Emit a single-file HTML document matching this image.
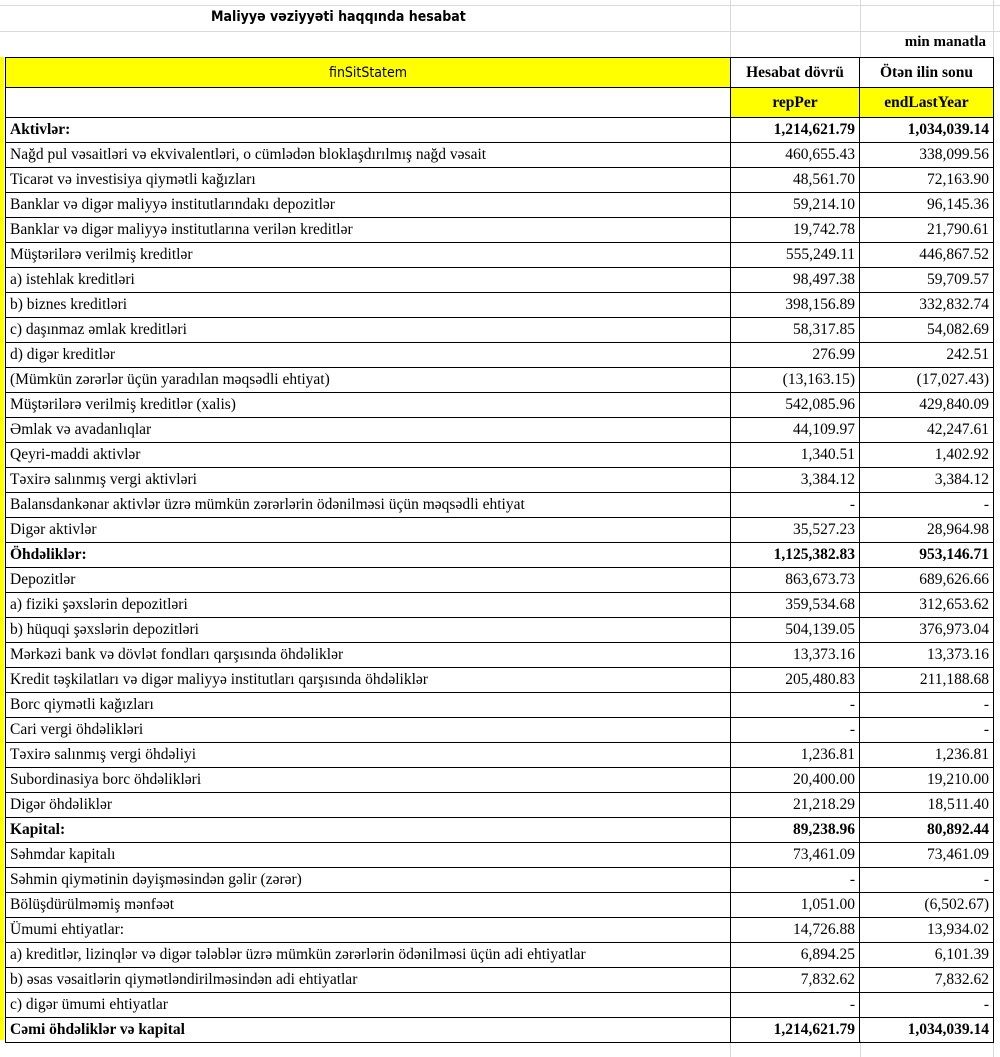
<!DOCTYPE html>
<html><head><meta charset="utf-8"><style>
body{margin:0;width:1000px;height:1057px;background:#fff;position:relative;overflow:hidden;font-family:"Liberation Serif",serif;}
.g{position:absolute;background:#d9d9d9}
table{position:absolute;left:5px;top:57px;border-collapse:collapse;table-layout:fixed}
td{border:1.5px solid #000;padding:0 4px;height:24px;font-size:15.5px;white-space:nowrap;overflow:hidden;line-height:24px}
td.n{text-align:right}
tr.b td{font-weight:bold}
.y{background:#ffff00}
</style></head><body>
<div class="g" style="left:0;top:5px;width:1000px;height:1px"></div>
<div class="g" style="left:0;top:31px;width:1000px;height:1px"></div>
<div class="g" style="left:730px;top:0;width:1px;height:57px"></div>
<div class="g" style="left:860px;top:0;width:1px;height:57px"></div>
<div class="g" style="left:993px;top:0;width:1px;height:1057px"></div>
<div class="g" style="left:730px;top:1040px;width:1px;height:17px"></div>
<div class="g" style="left:860px;top:1040px;width:1px;height:17px"></div>
<div style="position:absolute;left:0;top:57px;width:4px;height:983px;background:#ffff00"></div>
<div style="position:absolute;left:211px;top:9px;font:bold 14px 'DejaVu Sans Condensed','Liberation Sans',sans-serif">Maliyyə vəziyyəti haqqında hesabat</div>
<div style="position:absolute;right:14px;top:34px;font:bold 15px 'Liberation Serif',serif">min manatla</div>
<table>
<colgroup><col style="width:725px"><col style="width:129px"><col style="width:134px"></colgroup>
<tr style="height:30px"><td class="y" style="text-align:center;font:14px 'DejaVu Sans Condensed','Liberation Sans',sans-serif;height:29px">finSitStatem</td><td style="text-align:center;font-weight:bold">Hesabat dövrü</td><td style="text-align:center;font-weight:bold">Ötən ilin sonu</td></tr>
<tr style="height:30px"><td style="height:29px"></td><td class="y" style="text-align:center;font-weight:bold">repPer</td><td class="y" style="text-align:center;font-weight:bold">endLastYear</td></tr>
<tr class="b"><td>Aktivlər:</td><td class="n">1,214,621.79</td><td class="n">1,034,039.14</td></tr>
<tr><td>Nağd pul vəsaitləri və  ekvivalentləri, o cümlədən bloklaşdırılmış nağd vəsait</td><td class="n">460,655.43</td><td class="n">338,099.56</td></tr>
<tr><td>Ticarət və investisiya qiymətli kağızları</td><td class="n">48,561.70</td><td class="n">72,163.90</td></tr>
<tr><td>Banklar və digər maliyyə institutlarındakı depozitlər</td><td class="n">59,214.10</td><td class="n">96,145.36</td></tr>
<tr><td>Banklar və digər maliyyə institutlarına verilən kreditlər</td><td class="n">19,742.78</td><td class="n">21,790.61</td></tr>
<tr><td>Müştərilərə verilmiş kreditlər</td><td class="n">555,249.11</td><td class="n">446,867.52</td></tr>
<tr><td>a) istehlak kreditləri</td><td class="n">98,497.38</td><td class="n">59,709.57</td></tr>
<tr><td>b) biznes kreditləri</td><td class="n">398,156.89</td><td class="n">332,832.74</td></tr>
<tr><td>c) daşınmaz əmlak kreditləri</td><td class="n">58,317.85</td><td class="n">54,082.69</td></tr>
<tr><td>d) digər kreditlər</td><td class="n">276.99</td><td class="n">242.51</td></tr>
<tr><td>(Mümkün zərərlər üçün yaradılan məqsədli ehtiyat)</td><td class="n">(13,163.15)</td><td class="n">(17,027.43)</td></tr>
<tr><td>Müştərilərə verilmiş kreditlər (xalis)</td><td class="n">542,085.96</td><td class="n">429,840.09</td></tr>
<tr><td>Əmlak və avadanlıqlar</td><td class="n">44,109.97</td><td class="n">42,247.61</td></tr>
<tr><td>Qeyri-maddi aktivlər</td><td class="n">1,340.51</td><td class="n">1,402.92</td></tr>
<tr><td>Təxirə salınmış vergi aktivləri</td><td class="n">3,384.12</td><td class="n">3,384.12</td></tr>
<tr><td>Balansdankənar aktivlər üzrə mümkün zərərlərin ödənilməsi üçün məqsədli ehtiyat</td><td class="n">-</td><td class="n">-</td></tr>
<tr><td>Digər aktivlər</td><td class="n">35,527.23</td><td class="n">28,964.98</td></tr>
<tr class="b"><td>Öhdəliklər:</td><td class="n">1,125,382.83</td><td class="n">953,146.71</td></tr>
<tr><td>Depozitlər</td><td class="n">863,673.73</td><td class="n">689,626.66</td></tr>
<tr><td>a) fiziki şəxslərin depozitləri</td><td class="n">359,534.68</td><td class="n">312,653.62</td></tr>
<tr><td>b) hüquqi şəxslərin depozitləri</td><td class="n">504,139.05</td><td class="n">376,973.04</td></tr>
<tr><td>Mərkəzi bank və dövlət fondları qarşısında öhdəliklər</td><td class="n">13,373.16</td><td class="n">13,373.16</td></tr>
<tr><td>Kredit təşkilatları və digər maliyyə institutları qarşısında öhdəliklər</td><td class="n">205,480.83</td><td class="n">211,188.68</td></tr>
<tr><td>Borc qiymətli kağızları</td><td class="n">-</td><td class="n">-</td></tr>
<tr><td>Cari vergi öhdəlikləri</td><td class="n">-</td><td class="n">-</td></tr>
<tr><td>Təxirə salınmış vergi öhdəliyi</td><td class="n">1,236.81</td><td class="n">1,236.81</td></tr>
<tr><td>Subordinasiya borc öhdəlikləri</td><td class="n">20,400.00</td><td class="n">19,210.00</td></tr>
<tr><td>Digər öhdəliklər</td><td class="n">21,218.29</td><td class="n">18,511.40</td></tr>
<tr class="b"><td>Kapital:</td><td class="n">89,238.96</td><td class="n">80,892.44</td></tr>
<tr><td>Səhmdar kapitalı</td><td class="n">73,461.09</td><td class="n">73,461.09</td></tr>
<tr><td>Səhmin qiymətinin dəyişməsindən gəlir (zərər)</td><td class="n">-</td><td class="n">-</td></tr>
<tr><td>Bölüşdürülməmiş mənfəət</td><td class="n">1,051.00</td><td class="n">(6,502.67)</td></tr>
<tr><td>Ümumi ehtiyatlar:</td><td class="n">14,726.88</td><td class="n">13,934.02</td></tr>
<tr><td>a) kreditlər, lizinqlər və digər tələblər üzrə mümkün zərərlərin ödənilməsi üçün adi ehtiyatlar</td><td class="n">6,894.25</td><td class="n">6,101.39</td></tr>
<tr><td>b) əsas vəsaitlərin qiymətləndirilməsindən adi ehtiyatlar</td><td class="n">7,832.62</td><td class="n">7,832.62</td></tr>
<tr><td>c) digər ümumi ehtiyatlar</td><td class="n">-</td><td class="n">-</td></tr>
<tr class="b"><td>Cəmi öhdəliklər və kapital</td><td class="n">1,214,621.79</td><td class="n">1,034,039.14</td></tr>
</table>
</body></html>
